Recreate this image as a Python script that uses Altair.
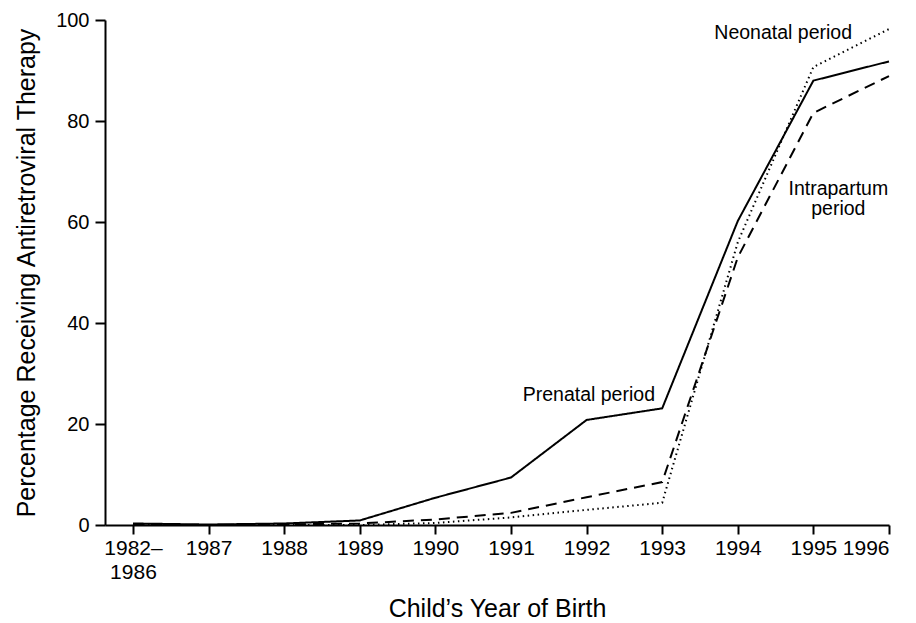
import altair as alt
import pandas as pd

# ---- data ----
tick_labels = ["1982–\n1986", "1987", "1988", "1989", "1990", "1991",
               "1992", "1993", "1994", "1995", "1996"]
prenatal = [0.3, 0.1, 0.3, 0.9, 5.4, 9.4, 20.8, 23.1, 60.2, 88.0, 91.8]
intrapartum = [0.0, 0.0, 0.1, 0.3, 1.1, 2.4, 5.5, 8.5, 53.0, 81.6, 88.9]
neonatal = [0.0, 0.0, 0.0, 0.0, 0.4, 1.5, 3.0, 4.4, 56.0, 90.7, 98.2]
series_names = ["Prenatal", "Intrapartum", "Neonatal"]

label_texts = ["Prenatal period", "Neonatal period", "Intrapartum\nperiod"]
label_x = [6.03, 8.6, 9.33]
label_y = [25.7, 97.4, 66.6]

rows = []
for name, vals in zip(series_names, [prenatal, intrapartum, neonatal]):
    for i, v in enumerate(vals):
        rows.append({"series": name, "idx": i, "value": v})
df = pd.DataFrame(rows)
labels_df = pd.DataFrame({"text": label_texts, "idx": label_x, "value": label_y})

FONT = "Liberation Sans"
label_array = "[" + ",".join("'" + t.replace("\n", "\\n") + "'" for t in tick_labels) + "]"
label_expr = "split(" + label_array + "[datum.value], '\\n')"

x_enc = alt.X(
    "idx:Q",
    scale=alt.Scale(domain=[-0.37, 10], nice=False, zero=False),
    axis=alt.Axis(
        values=list(range(len(tick_labels))),
        labelExpr=label_expr,
        title="Child’s Year of Birth",
        grid=False,
        tickSize=9,
        tickWidth=2,
        domainWidth=2,
        domainColor="black",
        tickColor="black",
        labelFont=FONT,
        labelFontSize=21,
        labelColor="black",
        labelPadding=3,
        labelLineHeight=24,
        titleFont=FONT,
        titleFontSize=25,
        titleFontWeight="normal",
        titleColor="black",
        titlePadding=14,
    ),
)
y_enc = alt.Y(
    "value:Q",
    scale=alt.Scale(domain=[0, 100], nice=False),
    axis=alt.Axis(
        values=[0, 20, 40, 60, 80, 100],
        title="Percentage Receiving Antiretroviral Therapy",
        grid=False,
        tickSize=10,
        tickWidth=2,
        domainWidth=2,
        domainColor="black",
        tickColor="black",
        labelFont=FONT,
        labelFontSize=20,
        labelColor="black",
        labelPadding=6,
        titleFont=FONT,
        titleFontSize=25,
        titleFontWeight="normal",
        titleColor="black",
        titlePadding=16,
    ),
)

lines = alt.Chart(df).mark_line(color="black", strokeWidth=2).encode(
    x=x_enc,
    y=y_enc,
    strokeDash=alt.StrokeDash(
        "series:N",
        scale=alt.Scale(domain=series_names, range=[[1, 0], [11, 7], [1.5, 3.5]]),
        legend=None,
    ),
    detail="series:N",
)

texts = alt.Chart(labels_df).mark_text(
    font=FONT, fontSize=19.5, color="black", align="center", baseline="middle",
    lineBreak="\n", lineHeight=20,
).encode(x="idx:Q", y="value:Q", text="text:N")

chart = (
    alt.layer(lines, texts)
    .properties(
        width=784,
        height=505,
        autosize=alt.AutoSizeParams(type="none"),
        padding={"left": 97, "top": 12, "right": 12, "bottom": 98},
    )
    .configure_view(stroke=None)
)

chart.save("out.html", embed_options={"renderer": "svg", "actions": False})
